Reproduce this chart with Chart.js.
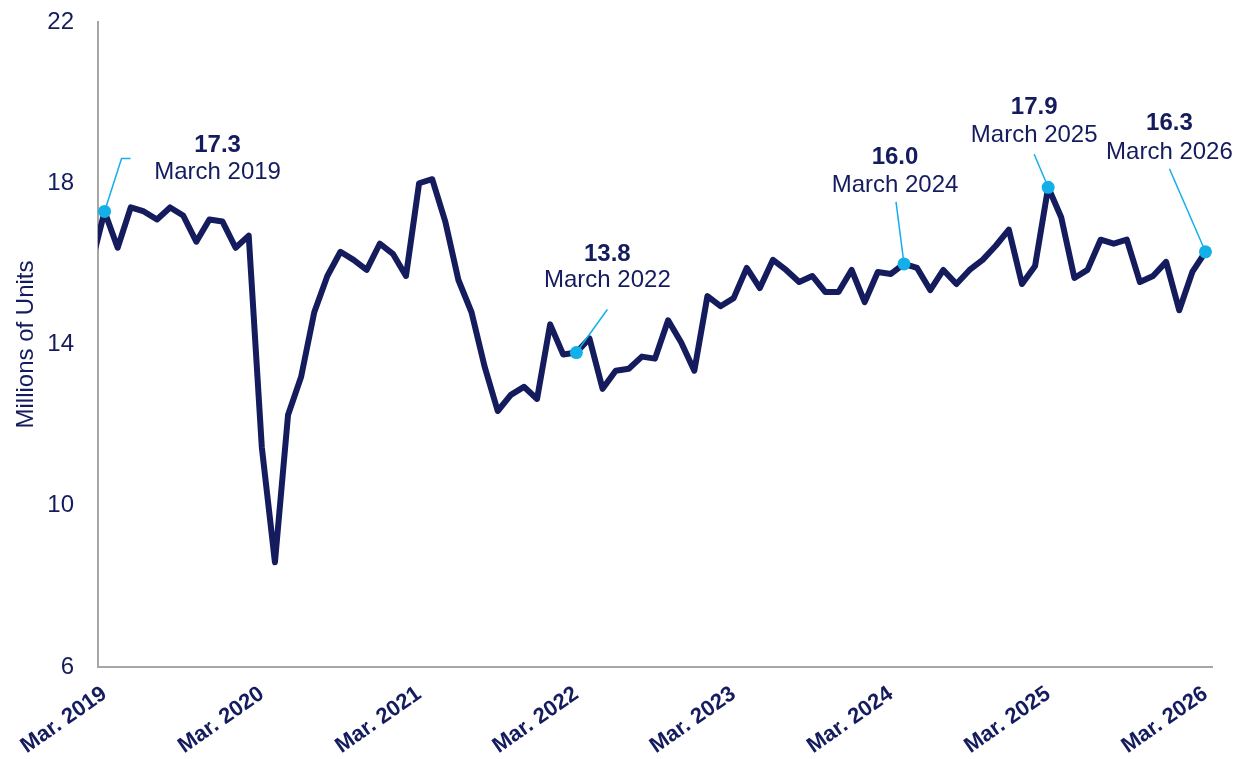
<!DOCTYPE html>
<html>
<head>
<meta charset="utf-8">
<script src="https://cdn.jsdelivr.net/npm/chart.js@4"></script>
<style>
  html, body { margin: 0; padding: 0; background: #fff; }
  canvas { display: block; }
</style>
</head>
<body>
<canvas id="salesChart" width="1253" height="759"></canvas>
<script>
// Monthly sales, millions of units (SAAR). First entry is Feb 2019, just left of the axis.
const months = [
  'Feb 2019', 'Mar 2019', 'Apr 2019', 'May 2019', 'Jun 2019', 'Jul 2019', 'Aug 2019', 'Sep 2019', 'Oct 2019', 'Nov 2019', 'Dec 2019',
  'Jan 2020', 'Feb 2020', 'Mar 2020', 'Apr 2020', 'May 2020', 'Jun 2020', 'Jul 2020', 'Aug 2020', 'Sep 2020', 'Oct 2020', 'Nov 2020', 'Dec 2020',
  'Jan 2021', 'Feb 2021', 'Mar 2021', 'Apr 2021', 'May 2021', 'Jun 2021', 'Jul 2021', 'Aug 2021', 'Sep 2021', 'Oct 2021', 'Nov 2021', 'Dec 2021',
  'Jan 2022', 'Feb 2022', 'Mar 2022', 'Apr 2022', 'May 2022', 'Jun 2022', 'Jul 2022', 'Aug 2022', 'Sep 2022', 'Oct 2022', 'Nov 2022', 'Dec 2022',
  'Jan 2023', 'Feb 2023', 'Mar 2023', 'Apr 2023', 'May 2023', 'Jun 2023', 'Jul 2023', 'Aug 2023', 'Sep 2023', 'Oct 2023', 'Nov 2023', 'Dec 2023',
  'Jan 2024', 'Feb 2024', 'Mar 2024', 'Apr 2024', 'May 2024', 'Jun 2024', 'Jul 2024', 'Aug 2024', 'Sep 2024', 'Oct 2024', 'Nov 2024', 'Dec 2024',
  'Jan 2025', 'Feb 2025', 'Mar 2025', 'Apr 2025', 'May 2025', 'Jun 2025', 'Jul 2025', 'Aug 2025', 'Sep 2025', 'Oct 2025', 'Nov 2025', 'Dec 2025',
  'Jan 2026', 'Feb 2026', 'Mar 2026'
];

const sales = [
  16.0, 17.3, 16.4, 17.4, 17.3, 17.1, 17.4, 17.2, 16.55, 17.1, 17.05,
  16.4, 16.7, 11.45, 8.6, 12.25, 13.2, 14.8, 15.7, 16.3, 16.1, 15.85, 16.5,
  16.25, 15.7, 18.0, 18.1, 17.05, 15.6, 14.8, 13.45, 12.35, 12.75, 12.95, 12.65,
  14.5, 13.75, 13.8, 14.15, 12.9, 13.35, 13.4, 13.7, 13.65, 14.6, 14.05, 13.35,
  15.2, 14.95, 15.15, 15.9, 15.4, 16.1, 15.85, 15.55, 15.7, 15.3, 15.3, 15.85,
  15.05, 15.8, 15.75, 16.0, 15.9, 15.35, 15.85, 15.5, 15.85, 16.1, 16.45, 16.85,
  15.5, 15.95, 17.9, 17.15, 15.65, 15.85, 16.6, 16.5, 16.6, 15.55, 15.7, 16.05,
  14.85, 15.8, 16.3
];

// x ticks (month index counted from Mar 2019)
const tickIdx = [0, 12, 24, 36, 48, 60, 72, 84];
const tickLabels = ['Mar. 2019', 'Mar. 2020', 'Mar. 2021', 'Mar. 2022', 'Mar. 2023', 'Mar. 2024', 'Mar. 2025', 'Mar. 2026'];
const yTicks = [6, 10, 14, 18, 22];

// callouts (month index from Mar 2019)
const calloutIdx = [0, 36, 61, 72, 84];
const calloutValue = ['17.3', '13.8', '16.0', '17.9', '16.3'];
const calloutDate = ['March 2019', 'March 2022', 'March 2024', 'March 2025', 'March 2026'];

// callout layout in px relative to the dot: text centre x, value y, date y, leader path
const calloutLayout = [
  { dx: 113, vy: -66, dy: -39, leader: [[17, -53], [26, -53]] },
  { dx: 31, vy: -98, dy: -72, leader: [[31, -43]] },
  { dx: -9, vy: -107, dy: -79, leader: [[-8, -62]] },
  { dx: -14, vy: -80, dy: -52, leader: [[-14, -33]] },
  { dx: -36, vy: -128, dy: -99, leader: [[-36, -83]] }
];

const NAVY = '#141c5e';
const CYAN = '#12afe9';
const AXIS_GREY = '#a6a6a6';
const FONT = "'Liberation Sans', Arial, sans-serif";

const calloutPlugin = {
  id: 'callouts',
  afterDatasetsDraw(chart) {
    const { ctx, scales: { x, y } } = chart;
    ctx.save();
    calloutIdx.forEach((idx, k) => {
      const px = x.getPixelForValue(idx);
      const py = y.getPixelForValue(sales[idx + 1]);
      const lay = calloutLayout[k];

      ctx.strokeStyle = CYAN;
      ctx.lineWidth = 1.5;
      ctx.beginPath();
      ctx.moveTo(px, py);
      lay.leader.forEach(([lx, ly]) => ctx.lineTo(px + lx, py + ly));
      ctx.stroke();

      ctx.fillStyle = NAVY;
      ctx.textAlign = 'center';
      ctx.textBaseline = 'middle';
      ctx.font = `bold 24px ${FONT}`;
      ctx.fillText(calloutValue[k], px + lay.dx, py + lay.vy);
      ctx.font = `24px ${FONT}`;
      ctx.fillText(calloutDate[k], px + lay.dx, py + lay.dy);
    });
    ctx.restore();
  }
};

document.addEventListener('DOMContentLoaded', () => {
  const ctx = document.getElementById('salesChart').getContext('2d');

  new Chart(ctx, {
    type: 'line',
    data: {
      datasets: [
        {
          label: 'Highlights',
          data: calloutIdx.map(i => ({ x: i, y: sales[i + 1] })),
          showLine: false,
          pointRadius: 6.5,
          pointBackgroundColor: CYAN,
          pointBorderWidth: 0,
          order: 0
        },
        {
          label: 'Sales',
          data: sales.map((v, i) => ({ x: i - 1, y: v })),
          borderColor: NAVY,
          borderWidth: 6,
          pointRadius: 0,
          tension: 0,
          borderJoinStyle: 'round',
          borderCapStyle: 'round',
          clip: 0,
          order: 1
        }
      ]
    },
    options: {
      responsive: false,
      animation: false,
      layout: {
        padding: { top: 22, right: 41, left: 0, bottom: 0 }
      },
      plugins: {
        legend: { display: false },
        tooltip: { enabled: false }
      },
      scales: {
        x: {
          type: 'linear',
          min: -0.5,
          max: 84.5,
          grid: { display: false, drawTicks: false },
          border: { display: true, color: AXIS_GREY, width: 2 },
          afterBuildTicks: (axis) => {
            axis.ticks = tickIdx.map(v => ({ value: v }));
          },
          afterFit: (axis) => { axis.height = 92; },
          ticks: {
            autoSkip: false,
            minRotation: 35,
            maxRotation: 35,
            padding: 14,
            color: NAVY,
            font: { family: FONT, size: 22, weight: 'bold' },
            callback: (value, index) => tickLabels[index]
          }
        },
        y: {
          min: 6,
          max: 22,
          grid: { display: false, drawTicks: false },
          border: { display: true, color: AXIS_GREY, width: 2 },
          afterBuildTicks: (axis) => {
            axis.ticks = yTicks.map(v => ({ value: v }));
          },
          afterFit: (axis) => {
            axis.width = 98;
            // the tick padding would otherwise push the plot area down
            axis.paddingTop = 0;
            axis.paddingBottom = 0;
          },
          ticks: {
            padding: 24,
            color: NAVY,
            font: { family: FONT, size: 24 }
          },
          title: {
            display: true,
            text: 'Millions of Units',
            color: NAVY,
            padding: { top: 12, bottom: 0 },
            font: { family: FONT, size: 24 }
          }
        }
      }
    },
    plugins: [calloutPlugin]
  });
});
</script>
</body>
</html>
